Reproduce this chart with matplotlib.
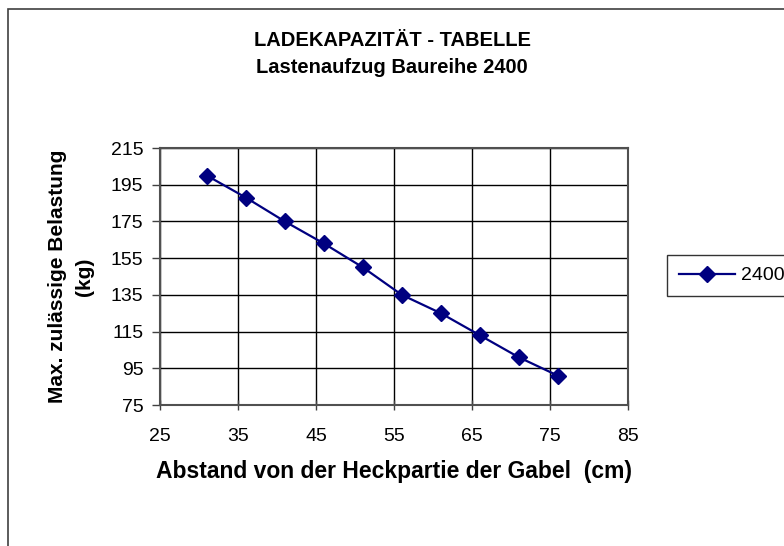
import numpy as np
import matplotlib
matplotlib.use("Agg")
import matplotlib.pyplot as plt
from matplotlib.patches import Rectangle

plt.rcParams['font.family'] = ['Liberation Sans', 'DejaVu Sans']

# data
abstand = [31, 36, 41, 46, 51, 56, 61, 66, 71, 76]
belastung = [200, 188, 175, 163, 150, 135, 125, 113, 101, 91]
serie = "2400"

x_ticks = [25, 35, 45, 55, 65, 75, 85]
y_ticks = [75, 95, 115, 135, 155, 175, 195, 215]

W, H = 784, 546
fig = plt.figure(figsize=(W/100, H/100), dpi=100)
# plot area in pixels: left 160, right 628, top 148, bottom 405
ax = fig.add_axes([160/W, 1-405/H, (628-160)/W, (405-148)/H])

ax.plot(abstand, belastung, color='#000080', lw=1.6, marker='D', ms=8,
        mec='#000080', mfc='#000080', label=serie, zorder=3)

ax.set_xlim(25, 85)
ax.set_ylim(75, 215)
ax.set_xticks(x_ticks)
ax.set_yticks(y_ticks)
ax.grid(True, color='black', lw=1)
ax.set_axisbelow(True)
ax.tick_params(axis='x', labelsize=14, length=7, width=1, direction='inout',
               pad=13, color='#404040')
ax.tick_params(axis='y', labelsize=14, length=6, width=1, direction='out',
               pad=6, color='#404040')
for s in ax.spines.values():
    s.set_color('#505050')
    s.set_linewidth(1.5)

ax.set_xlabel("Abstand von der Heckpartie der Gabel  (cm)", fontsize=16.5,
              fontweight='bold')
ax.xaxis.label.set_va('baseline')
ax.xaxis.set_label_coords(0.5, -(478-405)/(405-148))

ax.set_ylabel("Max. zulässige Belastung\n(kg)", fontsize=15,
              fontweight='bold', linespacing=1.5)
ax.yaxis.label.set_va('center')
ax.yaxis.set_label_coords(-(160-71)/(628-160), 0.5)

fig.text(392/W, 1-46/H, "LADEKAPAZITÄT - TABELLE", ha='center', va='baseline',
         fontsize=14.5, fontweight='bold')
fig.text(392/W, 1-73/H, "Lastenaufzug Baureihe 2400", ha='center', va='baseline',
         fontsize=14.5, fontweight='bold')

leg = fig.legend(loc='center left', bbox_to_anchor=(667/W, 1-275.5/H),
                 fontsize=14, frameon=True, fancybox=False, edgecolor='black',
                 handlelength=2.9, handletextpad=0.3, borderpad=0.6,
                 borderaxespad=0)
leg.get_frame().set_linewidth(1)

fig.patches.append(Rectangle((8/W, -0.05), 1.1, 1-9/H+0.05,
                             transform=fig.transFigure, fill=False,
                             edgecolor='#404040', lw=1.2))

fig.savefig("out.png", dpi=100)
